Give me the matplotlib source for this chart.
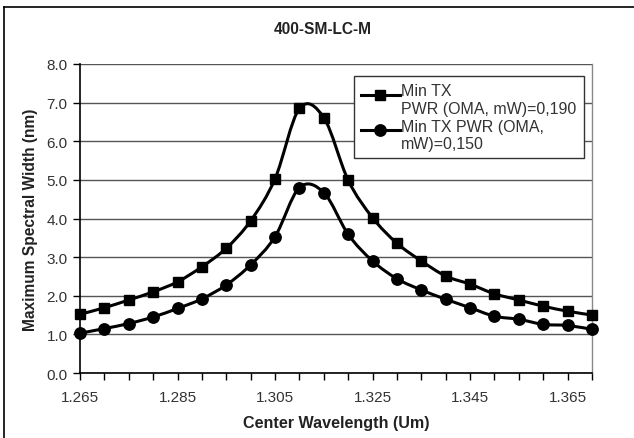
import matplotlib
matplotlib.use("Agg")
import matplotlib.pyplot as plt
from matplotlib.path import Path
from matplotlib.patches import PathPatch
from matplotlib.lines import Line2D
from matplotlib.legend_handler import HandlerLine2D
import numpy as np

plt.rcParams['font.family'] = ['Liberation Sans', 'DejaVu Sans']

title = "400-SM-LC-M"
xlabel = "Center Wavelength (Um)"
ylabel = "Maximum Spectral Width (nm)"

wavelength = [1.265, 1.270, 1.275, 1.280, 1.285, 1.290, 1.295, 1.300, 1.305, 1.310, 1.315,
              1.320, 1.325, 1.330, 1.335, 1.340, 1.345, 1.350, 1.355, 1.360, 1.365, 1.370]
width_190 = [1.52, 1.69, 1.89, 2.10, 2.36, 2.75, 3.23, 3.94, 5.03, 6.85, 6.61,
             4.99, 4.02, 3.36, 2.90, 2.51, 2.30, 2.05, 1.89, 1.73, 1.60, 1.50]
width_150 = [1.03, 1.15, 1.28, 1.45, 1.67, 1.92, 2.28, 2.80, 3.53, 4.80, 4.67,
             3.59, 2.90, 2.44, 2.15, 1.91, 1.69, 1.47, 1.39, 1.26, 1.23, 1.13]
label_190 = "Min TX\nPWR (OMA, mW)=0,190"
label_150 = "Min TX PWR (OMA,\nmW)=0,150"
yticks = [0.0, 1.0, 2.0, 3.0, 4.0, 5.0, 6.0, 7.0, 8.0]
xtick_labels = ["1.265", "1.285", "1.305", "1.325", "1.345", "1.365"]

W, H = 634, 439
fig = plt.figure(figsize=(W / 100, H / 100), dpi=100)
ax = fig.add_axes([80 / W, 1 - 374 / H, (592 - 80) / W, (374 - 65) / H])


def smooth_path(x, y):
    """Excel-like smoothed line: Catmull-Rom spline as cubic Bezier segments."""
    p = np.column_stack([x, y]).astype(float)
    n = len(p)
    verts = [p[0]]
    codes = [Path.MOVETO]
    for i in range(n - 1):
        p0 = p[i - 1] if i > 0 else p[i]
        p1 = p[i]
        p2 = p[i + 1]
        p3 = p[i + 2] if i + 2 < n else p[i + 1]
        c1 = p1 + (p2 - p0) / 6.0
        c2 = p2 - (p3 - p1) / 6.0
        verts += [c1, c2, p2]
        codes += [Path.CURVE4] * 3
    return Path(verts, codes)


for ys, mk, ms in [(width_190, 's', 6.8), (width_150, 'o', 8.2)]:
    ax.add_patch(PathPatch(smooth_path(wavelength, ys), fill=False,
                           edgecolor='black', lw=2.2, zorder=3, clip_on=False))
    ax.plot(wavelength, ys, linestyle='none', marker=mk, ms=ms, color='black',
            zorder=4, clip_on=False)

ax.set_xlim(wavelength[0], wavelength[-1])
ax.set_ylim(0, 8)
ax.set_yticks(yticks)
ax.set_yticklabels([f"{v:.1f}" for v in yticks])
ax.set_xticks(wavelength)
ax.set_xticklabels([w if w in xtick_labels else "" for w in [f"{v:.3f}" for v in wavelength]])

ax.grid(axis='y', color='#555555', lw=1.0)
ax.set_axisbelow(True)
ax.spines['top'].set_visible(False)
ax.spines['right'].set_color('#888888')
ax.spines['right'].set_linewidth(1.0)
ax.spines['left'].set_linewidth(1.2)
ax.spines['bottom'].set_linewidth(1.2)
ax.tick_params(axis='both', direction='out', length=5, width=1.0, colors='black',
               labelcolor='#333333', labelsize=11)
ax.tick_params(axis='x', pad=7)
ax.tick_params(axis='y', pad=4)

ax.set_xlabel(xlabel, fontsize=11.6, fontweight='bold', color='#222222', labelpad=8)
ax.set_ylabel(ylabel, fontsize=11.2, fontweight='bold', color='#222222', labelpad=6)
fig.text(323 / W, 1 - 30 / H, title, ha='center', va='center', fontsize=11.2,
         fontweight='bold', color='#222222')

h1 = Line2D([], [], color='black', lw=2.2, marker='s', ms=6.8)
h2 = Line2D([], [], color='black', lw=2.2, marker='o', ms=8.2)


class TopHandler(HandlerLine2D):
    def __init__(self, dy, **kw):
        super().__init__(**kw)
        self.dy = dy

    def create_artists(self, legend, orig_handle, xdescent, ydescent, width,
                       height, fontsize, trans):
        return super().create_artists(legend, orig_handle, xdescent,
                                      ydescent - self.dy, width, height,
                                      fontsize, trans)


leg = ax.legend([h1, h2], [label_190, label_150], loc='upper left',
                bbox_to_anchor=((354 - 80) / 512, (374 - 77) / 309),
                fontsize=11.5, frameon=True, fancybox=False, edgecolor='#333333',
                framealpha=1, handlelength=2.4, handletextpad=0.1,
                borderpad=0.45, labelspacing=0.2, borderaxespad=0,
                labelcolor='#333333',
                handler_map={h1: TopHandler(7.5), h2: TopHandler(7.5)})
leg.get_frame().set_linewidth(1.0)

# chart-area border (left and top)
fig.add_artist(Line2D([4 / W, 4 / W], [0, 1 - 8 / H], transform=fig.transFigure,
                      color='black', lw=1.2))
fig.add_artist(Line2D([4 / W, 1], [1 - 8 / H, 1 - 8 / H], transform=fig.transFigure,
                      color='black', lw=1.2))

fig.savefig("out.png", dpi=100)
